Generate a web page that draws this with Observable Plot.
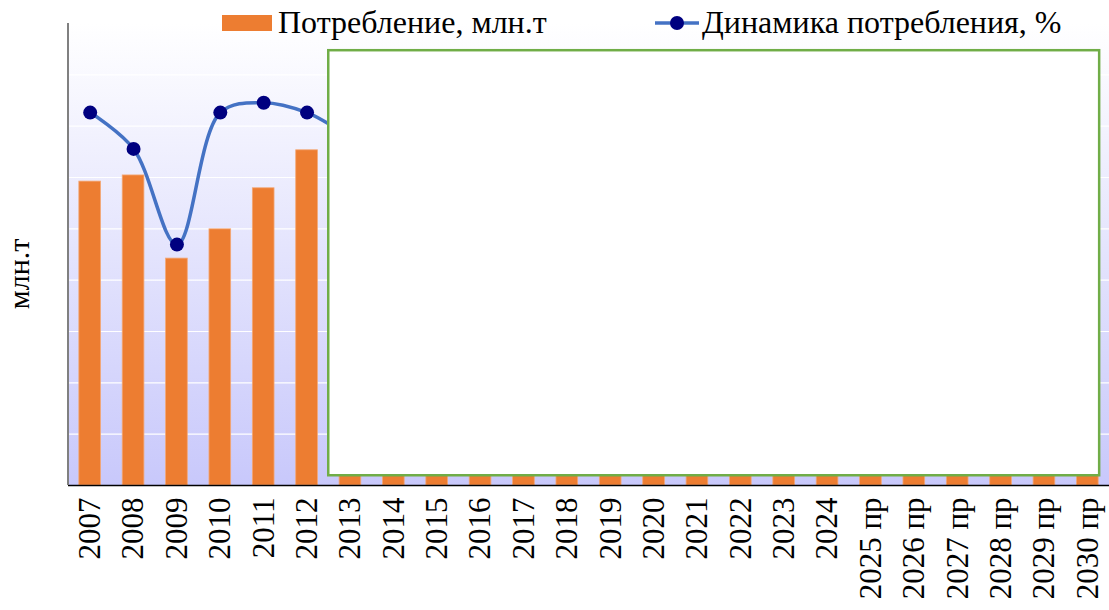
<!DOCTYPE html>
<html>
<head>
<meta charset="utf-8">
<script src="https://cdn.jsdelivr.net/npm/d3@7"></script>
<script src="https://cdn.jsdelivr.net/npm/@observablehq/plot@0.6"></script>
<style>
  html, body { margin: 0; padding: 0; background: #fff; }
  #wrap { position: relative; width: 1109px; height: 610px; font-family: "Liberation Serif", "Times New Roman", serif; }
  #chart svg, #chart svg text { font-family: "Liberation Serif", "Times New Roman", serif !important; }
  #legend { position: absolute; left: 0; top: 0; width: 1109px; height: 45px; pointer-events: none; }
  .lg-item { position: absolute; top: 4px; display: flex; align-items: center; font-size: 32px; color: #000; white-space: nowrap; }
</style>
</head>
<body>
<div id="wrap">
  <div id="chart"></div>
  <div id="legend"></div>
</div>
<script>
// ---- data ----
const years = ["2007","2008","2009","2010","2011","2012","2013","2014","2015","2016","2017","2018",
  "2019","2020","2021","2022","2023","2024","2025 пр","2026 пр","2027 пр","2028 пр","2029 пр","2030 пр"];
// consumption, mln t (2013+ hidden under the overlay box; estimated)
const consumption = [5.92, 6.04, 4.42, 4.99, 5.79, 6.53, 6.92, 7.05, 6.85, 7.10, 7.35, 7.50,
  7.40, 7.10, 7.60, 7.45, 7.70, 7.85, 7.95, 8.00, 8.05, 8.10, 8.15, 8.20];
// consumption dynamics, %
const dynamics = [113, 102, 73, 113, 116, 113, 106, 102, 97, 104, 104, 102,
  99, 96, 107, 98, 103, 102, 101, 101, 101, 101, 101, 101];
const seriesNames = ["Потребление, млн.т", "Динамика потребления, %"];
const yLabel = "млн.т";
// overlay box (white panel with green border), in data terms
const overlay = { from: "2013", to: "2030 пр", low: 0.19, high: 8.47 };

const yDomain = [0, 9];
const y2Domain = [0, 140];
const toPrimary = d3.scaleLinear(y2Domain, yDomain);

const rows = years.map((year, i) => ({ year, value: consumption[i], pct: dynamics[i], y2: toPrimary(dynamics[i]) }));

const colors = { bar: "#ed7d31", line: "#4472c4", dot: "#000080", box: "#70ad47" };
const serif = "Liberation Serif";

const plot = Plot.plot({
  width: 1109,
  height: 610,
  marginLeft: 68,
  marginRight: 0,
  marginTop: 23,
  marginBottom: 125,
  style: { background: "transparent" },
  x: { domain: years, paddingInner: 0.5, paddingOuter: 0.25, align: 0.5, round: false, label: null },
  y: { domain: yDomain, label: null },
  marks: [
    Plot.frame({ fill: "url(#bgGrad)", stroke: null }),
    Plot.gridY(d3.range(0, 9, 1), { stroke: "#ffffff", strokeOpacity: 1, strokeWidth: 1.2 }),
    Plot.barY(rows, { x: "year", y: "value", fill: colors.bar, stroke: "#f3a877", strokeWidth: 0.8 }),
    Plot.line(rows, { x: "year", y: "y2", stroke: colors.line, strokeWidth: 3.5, curve: "catmull-rom" }),
    Plot.dot(rows, { x: "year", y: "y2", r: 7, fill: colors.dot, stroke: null }),
    Plot.axisX({ tickSize: 0, tickPadding: 12, tickRotate: -90, fontSize: 31, fontFamily: serif, label: null, fill: "#000" }),
    Plot.ruleY([0], { stroke: "#000", strokeWidth: 1.5 }),
    Plot.axisY({ ticks: [], label: null, tickSize: 0 })
  ]
});

const ns = "http://www.w3.org/2000/svg";
const defs = document.createElementNS(ns, "defs");
defs.innerHTML = `<linearGradient id="bgGrad" x1="0" y1="0" x2="0" y2="1">
  <stop offset="0" stop-color="#ffffff"/>
  <stop offset="1" stop-color="#c8c8fb"/>
</linearGradient>`;
plot.insertBefore(defs, plot.firstChild);

// positions derived from the plot's own scales
const sx = plot.scale("x");
const sy = plot.scale("y");
const bw = sx.bandwidth;
const step = sx.apply(years[1]) - sx.apply(years[0]);
const gap = (step - bw) / 2;
const left = sx.apply(years[0]) - gap;

const axisLine = document.createElementNS(ns, "line");
axisLine.setAttribute("x1", left); axisLine.setAttribute("x2", left);
axisLine.setAttribute("y1", sy.apply(yDomain[1])); axisLine.setAttribute("y2", sy.apply(0));
axisLine.setAttribute("stroke", "#808080"); axisLine.setAttribute("stroke-width", "2");
plot.appendChild(axisLine);

// y-axis title
const yMid = (sy.apply(yDomain[1]) + sy.apply(0)) / 2;
const yt = document.createElementNS(ns, "text");
yt.setAttribute("transform", `translate(${left - 39},${yMid + 20}) rotate(-90)`);
yt.setAttribute("text-anchor", "middle");
yt.setAttribute("font-size", "30");
yt.setAttribute("font-family", serif);
yt.setAttribute("fill", "#000");
yt.textContent = yLabel;
plot.appendChild(yt);

const bx1 = sx.apply(overlay.from) - gap;
const bx2 = sx.apply(overlay.to) + bw + 1;
const by1 = sy.apply(overlay.high);
const by2 = sy.apply(overlay.low);
const box = document.createElementNS(ns, "rect");
box.setAttribute("x", bx1); box.setAttribute("y", by1);
box.setAttribute("width", bx2 - bx1); box.setAttribute("height", by2 - by1);
box.setAttribute("fill", "#ffffff"); box.setAttribute("stroke", colors.box); box.setAttribute("stroke-width", "2.5");
plot.appendChild(box);

document.getElementById("chart").appendChild(plot);

// legend
const legend = document.getElementById("legend");
legend.innerHTML = `
  <div class="lg-item" style="left:222px">
    <svg width="50" height="18" style="margin-right:6px"><rect x="0" y="1" width="50" height="16" fill="${colors.bar}"/></svg>
    <span>${seriesNames[0]}</span>
  </div>
  <div class="lg-item" style="left:655px">
    <svg width="44" height="18" style="margin-right:3px"><line x1="0" x2="44" y1="9" y2="9" stroke="${colors.line}" stroke-width="3.5"/><circle cx="22" cy="9" r="7" fill="${colors.dot}"/></svg>
    <span>${seriesNames[1]}</span>
  </div>`;
</script>
</body>
</html>
